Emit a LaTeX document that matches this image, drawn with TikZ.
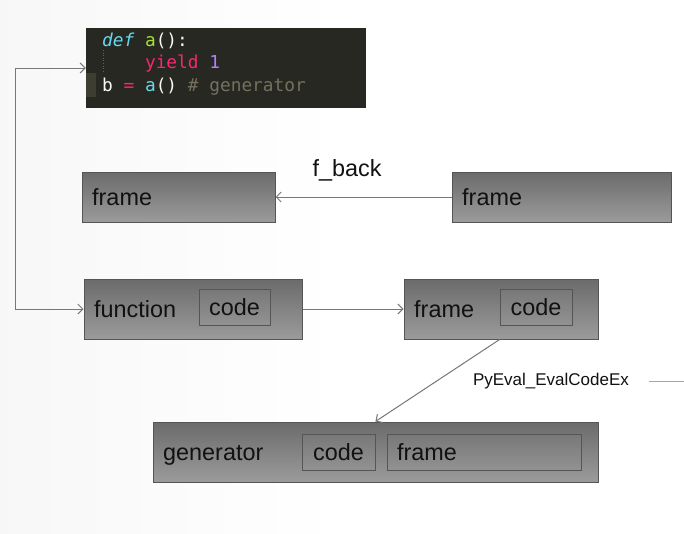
\documentclass[tikz,border=0pt]{standalone}
\usepackage{fontspec}
\setmainfont{Liberation Sans}
\setmonofont{DejaVu Sans Mono}
\usetikzlibrary{arrows.meta}
\definecolor{bxtop}{HTML}{6B6B6B}
\definecolor{bxbot}{HTML}{9B9B9B}
\definecolor{intop}{HTML}{787878}
\definecolor{inbot}{HTML}{929292}
\definecolor{bxline}{HTML}{555555}
\definecolor{arrcol}{HTML}{777777}
\definecolor{mkbg}{HTML}{272822}
\definecolor{mkhl}{HTML}{3E3D32}
\definecolor{mkfg}{HTML}{F8F8F2}
\definecolor{mkcyan}{HTML}{66D9EF}
\definecolor{mkgreen}{HTML}{A6E22E}
\definecolor{mkpink}{HTML}{F92672}
\definecolor{mkpurple}{HTML}{AE81FF}
\definecolor{mkcomment}{HTML}{75715E}
\definecolor{txt}{HTML}{111111}
\tikzset{
  box/.style={draw=bxline, line width=1pt, top color=bxtop, bottom color=bxbot,
    minimum height=#1, inner sep=0pt, anchor=center},
  inbox/.style={draw=bxline, line width=0.8pt, top color=intop, bottom color=inbot,
    minimum height=36pt, inner sep=0pt, text height=19pt, text depth=2pt,
    text=txt, font=\fontsize{23.4}{27}\selectfont},
  lbl/.style={anchor=west, inner sep=0pt, text height=19pt, text depth=2pt,
    text=txt, font=\fontsize{23.4}{27}\selectfont},
  arr/.style={draw=arrcol, line width=1pt, -{Straight Barb[length=5pt,width=10pt]}},
  arrboth/.style={draw=arrcol, line width=1pt, {Straight Barb[length=5pt,width=10pt]}-{Straight Barb[length=5pt,width=10pt]}},
  codeln/.style={anchor=base west, inner sep=0pt, font=\ttfamily\fontsize{17.8}{22}\selectfont},
}
\begin{document}
\begin{tikzpicture}[x=1pt,y=-1pt]
\shade[left color=gray!6, right color=white, middle color=white] (0,0) rectangle (684,533);
\useasboundingbox (0,0) rectangle (684,533);

% code box
\node[fill=mkbg, minimum width=280pt, minimum height=80pt, inner sep=0pt] (codebox) at (226,68) {};
\fill[mkhl] (86,73) rectangle (96,97);
\draw[mkhl!80!white, line width=0.6pt, dotted] (103,50) -- (103,72);
\node[codeln] (l1) at (102,46) {\textcolor{mkcyan}{\itshape def} \textcolor{mkgreen}{a}\textcolor{mkfg}{():}};
\node[codeln] (l2) at (102,68.5) {\phantom{xxxx}\textcolor{mkpink}{yield} \textcolor{mkpurple}{1}};
\node[codeln] (l3) at (102,91) {\textcolor{mkfg}{b} \textcolor{mkpink}{=} \textcolor{mkcyan}{a}\textcolor{mkfg}{()} \textcolor{mkcomment}{\# generator}};

% boxes
\node[box=50pt, minimum width=193pt] (frame1) at (178.5,197) {};
\node[lbl] (frame1t) at (92,197) {frame};
\node[box=50pt, minimum width=219pt] (frame2) at (561.5,197) {};
\node[lbl] (frame2t) at (462,197) {frame};

\node[box=60pt, minimum width=218pt] (function) at (193,309) {};
\node[lbl] (functiont) at (94,309) {function};
\node[inbox, minimum width=71pt] (fcode) at (234.5,307) {code};

\node[box=60pt, minimum width=194pt] (frame3) at (501,309) {};
\node[lbl] (frame3t) at (414,309) {frame};
\node[inbox, minimum width=72pt] (f3code) at (536,307) {code};

\node[box=60pt, minimum width=445pt] (generator) at (375.5,452) {};
\node[lbl] (generatort) at (163,452) {generator};
\node[inbox, minimum width=73pt] (gcode) at (338.5,452) {code};
\node[inbox, minimum width=194pt, text width=174pt, align=left] (gframe) at (484,452) {frame};

% connectors
\draw[arr] (frame2.west) -- (frame1.east);
\node[inner sep=0pt, text=txt, font=\fontsize{23.4}{27}\selectfont] (fback) at (347,170) {f\_back};
\draw[arr] (function.east) -- (frame3.west);
\draw[arrboth] (codebox.west) -- ++(-70,0) |- (function.west);
\draw[arr] (frame3.south -| f3code.west) -- (generator.north -| gcode.east);

\node[inner sep=0pt, text=txt, font=\fontsize{17}{20}\selectfont] (pyeval) at (551,381) {PyEval\_EvalCodeEx};
\coordinate (pyend) at (684,381);
\draw[draw=gray!70, line width=1pt] ([xshift=20pt]pyeval.east) -- (pyend);
\end{tikzpicture}
\end{document}
